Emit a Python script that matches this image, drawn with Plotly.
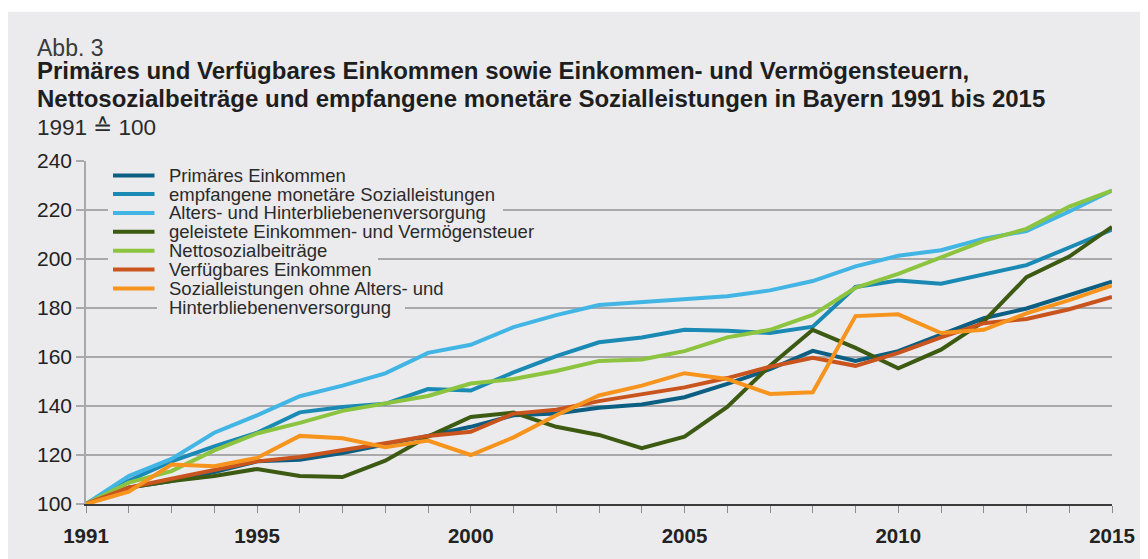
import plotly.graph_objects as go

# ---------------- data ----------------
years = list(range(1991, 2016))
x_tick_labels = ["1991", "", "", "", "1995", "", "", "", "", "2000", "", "", "", "", "2005",
                 "", "", "", "", "2010", "", "", "", "", "2015"]
y_tick_values = [100, 120, 140, 160, 180, 200, 220, 240]

primaeres_einkommen = [100, 106.7, 109.4, 113.0, 117.4, 118.1, 120.8, 124.2, 127.8, 131.5,
                       136.2, 136.9, 139.3, 140.6, 143.6, 149.0, 155.0, 162.5, 158.4, 162.4,
                       169.1, 175.8, 179.8, 185.2, 190.8]
empfangene_sozialleistungen = [100, 109.5, 117.4, 123.5, 129.1, 137.4, 139.6, 140.9, 146.9, 146.3,
                               153.7, 160.4, 166.0, 168.0, 171.1, 170.7, 169.8, 172.4, 188.6, 191.2,
                               189.9, 193.5, 197.5, 204.7, 212.0]
alters_hinterbliebenen = [100, 111.4, 118.4, 129.1, 136.2, 144.0, 148.3, 153.3, 161.7, 165.0,
                          172.2, 177.1, 181.2, 182.5, 183.9, 184.8, 187.2, 191.0, 197.0, 201.3,
                          203.6, 208.3, 211.4, 219.4, 227.9]
einkommen_vermoegensteuer = [100, 106.7, 109.4, 111.4, 114.3, 111.4, 111.0, 117.7, 127.5, 135.5,
                             137.3, 131.5, 128.2, 122.8, 127.5, 139.6, 156.4, 171.1, 163.7, 155.4,
                             163.0, 174.5, 192.6, 201.0, 213.1]
nettosozialbeitraege = [100, 108.7, 113.4, 121.9, 128.8, 133.1, 138.0, 141.2, 144.1, 149.2,
                        151.0, 154.3, 158.4, 159.0, 162.4, 168.0, 171.1, 177.2, 188.2, 193.9,
                        200.6, 207.4, 212.3, 221.4, 227.9]
verfuegbares_einkommen = [100, 106.7, 110.3, 113.8, 117.4, 119.2, 121.9, 124.8, 127.8, 129.5,
                          136.9, 138.5, 142.0, 144.9, 147.6, 151.4, 156.0, 159.7, 156.4, 161.7,
                          168.0, 173.8, 175.5, 179.5, 184.5]
sozialleistungen_ohne = [100, 105.0, 116.1, 115.4, 118.8, 127.8, 126.8, 123.2, 125.9, 120.0,
                         127.2, 136.2, 144.3, 148.3, 153.4, 151.0, 144.9, 145.6, 176.7, 177.4,
                         169.8, 171.1, 177.8, 183.2, 189.2]

series_names = [
    "Primäres Einkommen",
    "empfangene monetäre Sozialleistungen",
    "Alters- und Hinterbliebenenversorgung",
    "geleistete Einkommen- und Vermögensteuer",
    "Nettosozialbeiträge",
    "Verfügbares Einkommen",
    "Sozialleistungen ohne Alters- und",
]
legend_extra_line = "Hinterbliebenenversorgung"
series_values = [primaeres_einkommen, empfangene_sozialleistungen, alters_hinterbliebenen,
                 einkommen_vermoegensteuer, nettosozialbeitraege, verfuegbares_einkommen,
                 sozialleistungen_ohne]
series_colors = ["#0c5f82", "#1a8ab5", "#43b5e4", "#3d5a12", "#8cc43f", "#c9541e", "#f7941e"]

# ---------------- layout geometry ----------------
# page offset of the figure (default body margin of the html page)
OX, OY = 8, 8
W, H = 1140, 551
L, R, T, B = 78, 36, 153, 51
PW, PH = W - L - R, H - T - B
PANEL = "#ebebed"
FONT = "Liberation Sans, Arial, sans-serif"


def px(xp):
    """page x pixel -> paper coordinate"""
    return (xp - OX - L) / PW


def py(yp):
    """page y pixel -> paper coordinate"""
    return (H - B - (yp - OY)) / PH


fig = go.Figure()
for name, vals, col in zip(series_names, series_values, series_colors):
    fig.add_trace(go.Scatter(x=years, y=vals, mode="lines", name=name,
                             line=dict(color=col, width=4), showlegend=False))

shapes = [
    # grey panel
    dict(type="rect", xref="paper", yref="paper", x0=px(8), x1=px(1170), y0=py(590), y1=py(10),
         fillcolor=PANEL, line=dict(width=0), layer="below"),
]
# gaps in gridlines behind the legend texts
for (x0, x1, yc) in [(108, 503, 210.5), (108, 378, 260), (157, 405, 309.7)]:
    shapes.append(dict(type="rect", xref="paper", yref="paper", x0=px(x0), x1=px(x1),
                       y0=py(yc + 3), y1=py(yc - 3), fillcolor=PANEL, line=dict(width=0),
                       layer="above"))

row_y = [175.7, 194.5, 213.5, 232.6, 251.8, 270.8, 290.0, 309.2]
annotations = []
for i, (name, col) in enumerate(zip(series_names, series_colors)):
    shapes.append(dict(type="line", xref="paper", yref="paper", x0=px(113), x1=px(154.5),
                       y0=py(row_y[i]), y1=py(row_y[i]), line=dict(color=col, width=4),
                       layer="above"))
legend_texts = series_names + [legend_extra_line]
for i, txt in enumerate(legend_texts):
    annotations.append(dict(text=txt, xref="paper", yref="paper", x=px(167.5), y=py(row_y[i]),
                            xanchor="left", yanchor="middle", showarrow=False, borderpad=0,
                            font=dict(family=FONT, size=18.5, color="#2a2a2a")))

# titles
annotations += [
    dict(text="Abb. 3", xref="paper", yref="paper", x=px(34.5), y=py(46.5), xanchor="left",
         yanchor="middle", showarrow=False, font=dict(family=FONT, size=23, color="#3a3a3a")),
    dict(text="<b>Primäres und Verfügbares Einkommen sowie Einkommen- und Vermögensteuern,</b>",
         xref="paper", yref="paper", x=px(34.5), y=py(69.8), xanchor="left", yanchor="middle",
         showarrow=False, font=dict(family=FONT, size=24, color="#1e1e1e")),
    dict(text="<b>Nettosozialbeiträge und empfangene monetäre Sozialleistungen in Bayern 1991 bis 2015</b>",
         xref="paper", yref="paper", x=px(34.5), y=py(97.8), xanchor="left", yanchor="middle",
         showarrow=False, font=dict(family=FONT, size=24, color="#1e1e1e")),
    dict(text="1991 ≙ 100", xref="paper", yref="paper", x=px(34.5), y=py(127.6), xanchor="left",
         yanchor="middle", showarrow=False, font=dict(family=FONT, size=22.5, color="#2a2a2a")),
]

fig.update_layout(
    width=W, height=H,
    autosize=False,
    margin=dict(l=L, r=R, t=T, b=B, pad=0),
    paper_bgcolor="white",
    plot_bgcolor="rgba(0,0,0,0)",
    shapes=shapes,
    annotations=annotations,
    showlegend=False,
    xaxis=dict(range=[1991, 2015], tickmode="array", tickvals=years, ticktext=x_tick_labels,
               showgrid=False, zeroline=False, showline=True, linecolor="#3a3a3a", linewidth=2,
               ticks="outside", ticklen=7, tickwidth=1.3, tickcolor="#8c8c8c",
               ticklabelstandoff=5,
               tickfont=dict(family=FONT, size=20.5, color="#222222", weight="bold")),
    yaxis=dict(range=[100, 240], tickmode="array", tickvals=y_tick_values,
               showgrid=True, gridcolor="#a9a9ab", gridwidth=1.5, zeroline=False,
               showline=True, linecolor="#a9a9ab", linewidth=1.5,
               ticks="outside", ticklen=8, tickwidth=1.5, tickcolor="#a9a9ab",
               ticklabelstandoff=0,
               tickfont=dict(family=FONT, size=21, color="#222222")),
)

fig.write_html("out.html")
